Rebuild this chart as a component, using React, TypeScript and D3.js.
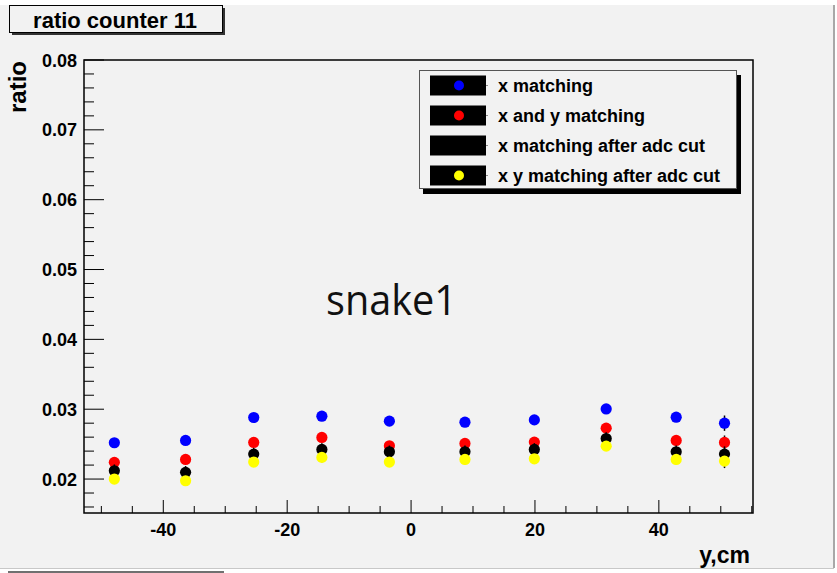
import React from "react";
import * as d3 from "d3";

const positions = [-47.9, -36.4, -25.4, -14.4, -3.5, 8.7, 19.9, 31.5, 42.8, 50.6];
const xMatching = [0.0252, 0.02553, 0.02881, 0.029, 0.02829, 0.02814, 0.02847, 0.03004, 0.02886, 0.0280];
const xyMatching = [0.02239, 0.02281, 0.02524, 0.02596, 0.02476, 0.0251, 0.02529, 0.02729, 0.02553, 0.02524];
const xAdcCut = [0.02119, 0.02096, 0.02357, 0.02424, 0.0239, 0.0239, 0.02424, 0.02581, 0.0239, 0.02357];
const xyAdcCut = [0.0200, 0.01976, 0.02243, 0.0231, 0.02243, 0.02281, 0.0229, 0.02471, 0.02281, 0.02257];
const xMatchingErr = [0.0005, 0.0005, 0.0005, 0.0005, 0.0005, 0.0005, 0.0005, 0.0005, 0.0005, 0.0011];
const xyMatchingErr = [0.0005, 0.0005, 0.0005, 0.0005, 0.0005, 0.0005, 0.0005, 0.0005, 0.0005, 0.001];
const xAdcCutErr = [0.0009, 0.0009, 0.0009, 0.0009, 0.0009, 0.0009, 0.0009, 0.0009, 0.0009, 0.0011];
const xyAdcCutErr = [0.0007, 0.0007, 0.0007, 0.0007, 0.0007, 0.0007, 0.0007, 0.0007, 0.0007, 0.001];
const seriesNames = ["x matching", "x and y matching", "x matching after adc cut", "x y matching after adc cut"];
const seriesColors = ["#0000ff", "#ff0000", "#000000", "#ffff00"];
const xTicks = [-40, -20, 0, 20, 40];
const yTicks = [0.02, 0.03, 0.04, 0.05, 0.06, 0.07, 0.08];

const W = 837, H = 573;
const L = 84, R = 753, T = 60, B = 513;
const font = "'Liberation Sans', Arial, sans-serif";

export default function App() {
  const x = d3.scaleLinear().domain([-52.8, 55.2]).range([L, R]);
  const y = d3.scaleLinear().domain([0.01514, 0.08]).range([B, T]);
  const values = [xMatching, xyMatching, xAdcCut, xyAdcCut];
  const errs = [xMatchingErr, xyMatchingErr, xAdcCutErr, xyAdcCutErr];
  const xMinor = d3.range(-50, 56, 5).filter((v) => !xTicks.includes(v));
  const yMinor = d3.range(0.016, 0.0801, 0.002).filter((v) => !yTicks.some((t) => Math.abs(t - v) < 1e-6));
  const legendRows = [85.5, 115.5, 145.5, 175.5];

  return (
    <div style={{ position: "fixed", left: 0, top: 0 }}>
      <svg width={W} height={H} style={{ display: "block" }}>
        <rect x={0} y={0} width={W} height={H} fill="#ffffff" />
        <rect x={0} y={5} width={834} height={563} fill="#f2f2f2" />
        <line x1={834} y1={5} x2={834} y2={568} stroke="#a8a8a8" strokeWidth={2} />
        <line x1={0} y1={568.5} x2={834} y2={568.5} stroke="#c8c8c8" strokeWidth={1} />
        <line x1={8} y1={572} x2={224} y2={572} stroke="#707070" strokeWidth={2} />

        {/* title box */}
        <rect x={12} y={8} width={213} height={27} fill="#333" />
        <rect x={9.5} y={5.5} width={213} height={27} fill="#f2f2f2" stroke="#000" strokeWidth={1} />
        <text x={115} y={27.5} textAnchor="middle" fontFamily={font} fontWeight="bold" fontSize={22} fill="#000">
          ratio counter 11
        </text>

        {/* frame */}
        <rect x={L} y={T} width={R - L} height={B - T} fill="none" stroke="#000" strokeWidth={1.5} />

        {/* y ticks */}
        {yTicks.map((t) => (
          <g key={"yt" + t}>
            <line x1={L} x2={L + 20} y1={y(t)} y2={y(t)} stroke="#000" strokeWidth={1} />
            <text x={77} y={y(t) + 6.5} textAnchor="end" fontFamily={font} fontWeight="bold" fontSize={18} fill="#000">
              {t.toFixed(2)}
            </text>
          </g>
        ))}
        {yMinor.map((t) => (
          <line key={"ym" + t} x1={L} x2={L + 10} y1={y(t)} y2={y(t)} stroke="#000" strokeWidth={1} />
        ))}

        {/* x ticks */}
        {xTicks.map((t) => (
          <g key={"xt" + t}>
            <line x1={x(t)} x2={x(t)} y1={B} y2={B - 13} stroke="#000" strokeWidth={1} />
            <text x={x(t)} y={536} textAnchor="middle" fontFamily={font} fontWeight="bold" fontSize={18} fill="#000">
              {t}
            </text>
          </g>
        ))}
        {xMinor.map((t) => (
          <line key={"xm" + t} x1={x(t)} x2={x(t)} y1={B} y2={B - 7} stroke="#000" strokeWidth={1} />
        ))}

        {/* axis titles */}
        <text x={750} y={563} textAnchor="end" fontFamily={font} fontWeight="bold" fontSize={23} fill="#000">
          y,cm
        </text>
        <text
          transform={`translate(26,61) rotate(-90)`}
          textAnchor="end"
          fontFamily={font}
          fontWeight="bold"
          fontSize={24}
          fill="#000"
        >
          ratio
        </text>

        {/* data */}
        {values.map((vals, si) => (
          <g key={"s" + si}>
            {vals.map((v, i) => (
              <g key={i}>
                <line
                  x1={x(positions[i])}
                  x2={x(positions[i])}
                  y1={y(v - errs[si][i])}
                  y2={y(v + errs[si][i])}
                  stroke="#000"
                  strokeWidth={1.5}
                />
                <circle cx={x(positions[i])} cy={y(v)} r={5.6} fill={seriesColors[si]} />
              </g>
            ))}
          </g>
        ))}

        {/* snake1 label */}
        <text x={326} y={315} fontFamily="'Open Sans', sans-serif" fontSize={42} fill="#111" textLength={131} lengthAdjust="spacingAndGlyphs">
          snake1
        </text>

        {/* legend */}
        <rect x={423} y={75} width={318} height={119} fill="#000" />
        <rect x={419.5} y={70.5} width={317} height={118} fill="#f2f2f2" stroke="#555" strokeWidth={1} />
        {seriesNames.map((name, i) => (
          <g key={"lg" + i}>
            <rect x={430} y={legendRows[i] - 10} width={56} height={20} fill="#000" />
            <line x1={486} x2={488} y1={legendRows[i]} y2={legendRows[i]} stroke="#888" strokeWidth={1} />
            <circle cx={459} cy={legendRows[i]} r={5} fill={seriesColors[i]} />
            <text x={498} y={legendRows[i] + 6} fontFamily={font} fontWeight="bold" fontSize={18} fill="#000">
              {name}
            </text>
          </g>
        ))}
      </svg>
    </div>
  );
}
